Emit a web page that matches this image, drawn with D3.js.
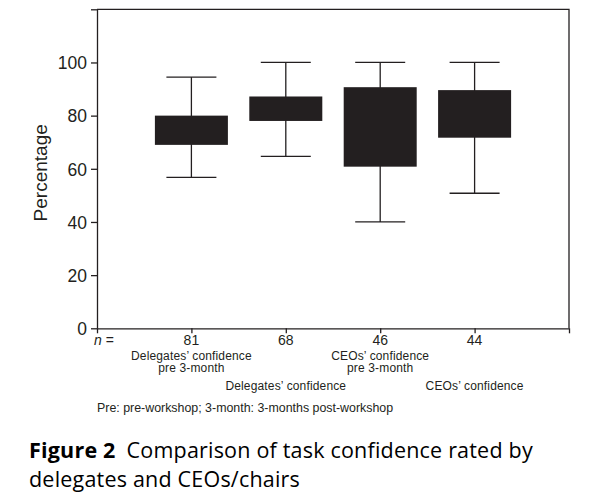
<!DOCTYPE html>
<html>
<head>
<meta charset="utf-8">
<script src="https://cdn.jsdelivr.net/npm/d3@7"></script>
<style>
  body { margin: 0; background: #fff; }
  svg { display: block; }
</style>
</head>
<body>
<script>
// values
const categories = [
  ["Delegates\u2019 confidence", "pre 3-month"],
  ["Delegates\u2019 confidence"],
  ["CEOs\u2019 confidence", "pre 3-month"],
  ["CEOs\u2019 confidence"]
];
const counts = [81, 68, 46, 44];
const whiskerHigh = [94.5, 100, 100, 100];
const boxTop = [80, 87.2, 90.7, 89.6];
const boxBottom = [69, 78, 60.8, 71.7];
const whiskerLow = [56.8, 64.7, 40, 50.8];
const yTicks = [0, 20, 40, 60, 80, 100, 120];
const yLabels = [0, 20, 40, 60, 80, 100];

const width = 608, height = 500;
const margin = { top: 9.3, right: 39, bottom: 171.7, left: 97 };
const ink = "#231f20";
const chartFont = "'Liberation Sans', Arial, sans-serif";

const svg = d3.select("body").append("svg")
  .attr("width", width).attr("height", height);

// x: slot positions 0..5, boxes sit at 1..4
const x = d3.scaleLinear()
  .domain([0, categories.length + 1])
  .range([margin.left, width - margin.right]);

const y = d3.scaleLinear()
  .domain([0, 120])
  .range([height - margin.bottom, margin.top]);

const boxW = 73, capW = 50;

// axes
const yAxis = g => g
  .attr("transform", `translate(${margin.left},0)`)
  .call(d3.axisLeft(y).tickValues(yTicks).tickSize(6).tickSizeOuter(0)
    .tickFormat(d => yLabels.includes(d) ? d : ""))
  .call(g => g.selectAll(".tick text")
    .attr("x", -10).attr("dy", "0.36em")
    .attr("font-size", "17.5px").attr("font-family", chartFont).attr("fill", ink));

const xAxis = g => g
  .attr("transform", `translate(0,${y(0)})`)
  .call(d3.axisBottom(x).tickValues(d3.range(0, categories.length + 2)).tickSize(5)
    .tickSizeOuter(0).tickFormat(""));

svg.append("g").call(yAxis);
svg.append("g").call(xAxis);
svg.selectAll(".domain, .tick line").attr("stroke", ink).attr("stroke-width", 1.3);

// top and right frame
svg.append("path")
  .attr("d", `M${x(0)},${y(120)}H${x(categories.length + 1)}V${y(0)}`)
  .attr("fill", "none").attr("stroke", ink).attr("stroke-width", 1.3);

// boxes
const idx = d3.range(categories.length);
const box = svg.append("g").selectAll("g").data(idx).join("g");

box.append("line")
  .attr("x1", i => x(i + 1)).attr("x2", i => x(i + 1))
  .attr("y1", i => y(whiskerLow[i])).attr("y2", i => y(whiskerHigh[i]))
  .attr("stroke", ink).attr("stroke-width", 1.3);

box.selectAll(".cap")
  .data(i => [whiskerLow[i], whiskerHigh[i]].map(v => ({ i, v })))
  .join("line")
  .attr("x1", d => x(d.i + 1) - capW / 2).attr("x2", d => x(d.i + 1) + capW / 2)
  .attr("y1", d => y(d.v)).attr("y2", d => y(d.v))
  .attr("stroke", ink).attr("stroke-width", 1.3);

box.append("rect")
  .attr("x", i => x(i + 1) - boxW / 2)
  .attr("width", boxW)
  .attr("y", i => y(boxTop[i]))
  .attr("height", i => y(boxBottom[i]) - y(boxTop[i]))
  .attr("fill", ink);

// y axis title
svg.append("text")
  .attr("transform", `translate(47,${(y(0) + y(120)) / 2 + 4}) rotate(-90)`)
  .attr("text-anchor", "middle")
  .attr("font-family", chartFont).attr("font-size", "19px").attr("fill", ink)
  .text("Percentage");

// n = row
const nRow = svg.append("text")
  .attr("x", x(0) - 3).attr("y", 345)
  .attr("font-family", chartFont).attr("font-size", "14px").attr("fill", ink);
nRow.append("tspan").attr("font-style", "italic").text("n");
nRow.append("tspan").text(" =");

svg.append("g").selectAll("text").data(counts).join("text")
  .attr("x", (d, i) => x(i + 1)).attr("y", 345)
  .attr("text-anchor", "middle")
  .attr("font-family", chartFont).attr("font-size", "14px").attr("fill", ink)
  .text(d => d);

// category labels, staggered
svg.append("g").selectAll("text").data(categories).join("text")
  .attr("x", (d, i) => x(i + 1))
  .attr("y", (d, i) => i % 2 === 0 ? 359.5 : 390)
  .attr("text-anchor", "middle")
  .attr("font-family", chartFont).attr("font-size", "12px")
  .attr("letter-spacing", "0.15px").attr("fill", ink)
  .selectAll("tspan").data(d => d).join("tspan")
  .attr("x", function () { return this.parentNode.getAttribute("x"); })
  .attr("dy", (d, j) => j === 0 ? 0 : 12.5)
  .text(d => d);

// footnote
svg.append("text")
  .attr("x", 97).attr("y", 412)
  .attr("font-family", chartFont).attr("font-size", "12.4px").attr("fill", ink)
  .text("Pre: pre-workshop; 3-month: 3-months post-workshop");

// caption
const cap = svg.append("text")
  .attr("font-family", "'Open Sans', 'Noto Sans', sans-serif")
  .attr("font-size", "21.5px").attr("letter-spacing", "0.2px").attr("fill", "#000");
const l1 = cap.append("tspan").attr("x", 29).attr("y", 458);
l1.append("tspan").attr("font-weight", "bold").text("Figure 2");
l1.append("tspan").text("\u2002Comparison of task confidence rated by");
cap.append("tspan").attr("x", 29).attr("y", 487).text("delegates and CEOs/chairs");
</script>
</body>
</html>
